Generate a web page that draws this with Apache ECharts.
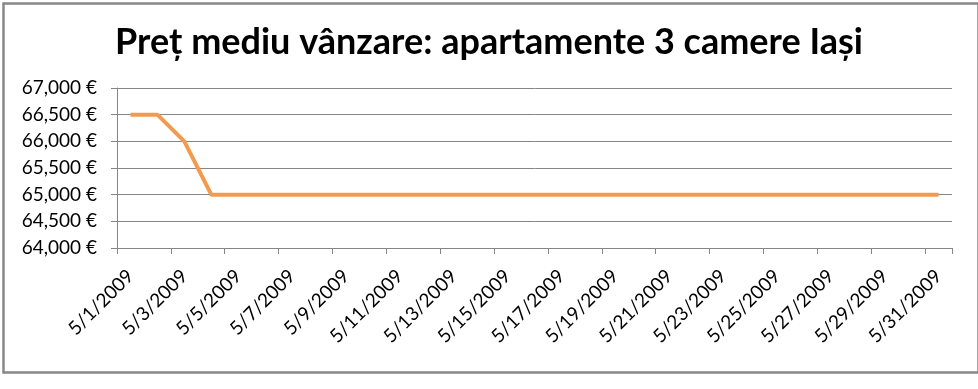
<!DOCTYPE html>
<html>
<head>
<meta charset="utf-8">
<script src="https://cdn.jsdelivr.net/npm/echarts@6/dist/echarts.min.js"></script>
<style>html,body{margin:0;padding:0;background:#fff;}#c{width:978px;height:389px;}</style>
</head>
<body>
<div id="c"></div>
<script>
var titleText = 'Preț mediu vânzare: apartamente 3 camere Iași';
var categories = ['5/1/2009','5/2/2009','5/3/2009','5/4/2009','5/5/2009','5/6/2009','5/7/2009','5/8/2009','5/9/2009','5/10/2009','5/11/2009','5/12/2009','5/13/2009','5/14/2009','5/15/2009','5/16/2009','5/17/2009','5/18/2009','5/19/2009','5/20/2009','5/21/2009','5/22/2009','5/23/2009','5/24/2009','5/25/2009','5/26/2009','5/27/2009','5/28/2009','5/29/2009','5/30/2009','5/31/2009'];
var prices = [66500,66500,66000,65000,65000,65000,65000,65000,65000,65000,65000,65000,65000,65000,65000,65000,65000,65000,65000,65000,65000,65000,65000,65000,65000,65000,65000,65000,65000,65000,65000];
var yMin = 64000, yMax = 67000, yStep = 500;

var chart = echarts.init(document.getElementById('c'));
var font = 'Lato, "Open Sans", sans-serif';
chart.setOption({
  animation: false,
  graphic: [{
    type: 'rect', left: 1, top: 1,
    shape: {width: 975, height: 369},
    style: {fill: 'none', stroke: '#888888', lineWidth: 2.5}
  }],
  title: {
    text: titleText, left: 'center', top: 19,
    textStyle: {fontFamily: font, fontWeight: 'bold', fontSize: 36, color: '#000'}
  },
  grid: {left: 117, right: 26, top: 88, bottom: 141, containLabel: false},
  xAxis: {
    type: 'category', data: categories, boundaryGap: true,
    axisLine: {lineStyle: {color: '#868686', width: 1}},
    axisTick: {show: true, interval: 1, length: 6, lineStyle: {color: '#868686'}},
    axisLabel: {interval: 1, rotate: 45, fontFamily: font, fontSize: 19, color: '#000', margin: 25}
  },
  yAxis: {
    type: 'value', min: yMin, max: yMax, interval: yStep,
    axisLine: {show: true, lineStyle: {color: '#868686', width: 1}},
    axisTick: {show: true, length: 6, lineStyle: {color: '#868686'}},
    splitLine: {lineStyle: {color: '#868686', width: 1}},
    axisLabel: {fontFamily: font, fontSize: 19, color: '#000', margin: 20,
      formatter: function (v) { return v.toLocaleString('en-US') + ' €'; }}
  },
  series: [{
    type: 'line', data: prices, symbol: 'none',
    lineStyle: {color: '#F39A4E', width: 4},
    itemStyle: {color: '#F39A4E'}
  }]
});
</script>
</body>
</html>
